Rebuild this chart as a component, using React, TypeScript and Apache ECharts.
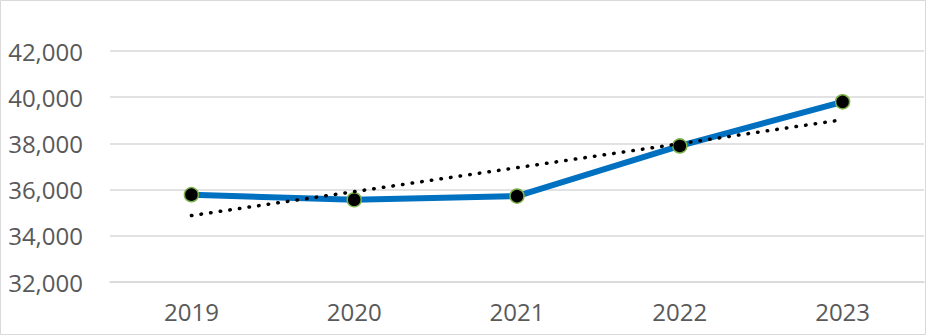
import React, { useEffect, useRef } from "react";
import * as echarts from "echarts";

const categories = ["2019", "2020", "2021", "2022", "2023"];
const values = [35780, 35560, 35720, 37890, 39800];
const yTicks = { min: 32000, max: 42000, interval: 2000 };

function trend(vals: number[]): number[] {
  const n = vals.length;
  const mx = (n - 1) / 2;
  const my = vals.reduce((a, b) => a + b, 0) / n;
  let sxy = 0, sxx = 0;
  vals.forEach((v, i) => { sxy += (i - mx) * (v - my); sxx += (i - mx) * (i - mx); });
  const b = sxy / sxx;
  return vals.map((_, i) => my + b * (i - mx));
}

export default function App() {
  const ref = useRef<HTMLDivElement>(null);
  useEffect(() => {
    document.body.style.margin = "0";
    const chart = echarts.init(ref.current!, null, { renderer: "svg" });
    const font = "'Open Sans', sans-serif";
    chart.setOption({
      animation: false,
      backgroundColor: "#ffffff",
      graphic: [
        {
          type: "rect",
          shape: { x: 0.5, y: 0.5, width: 925, height: 334 },
          style: { fill: "none", stroke: "#d9d9d9", lineWidth: 1 },
          silent: true,
        },
      ],
      grid: { left: 110, right: 2, top: 51, bottom: 53, containLabel: false },
      xAxis: {
        type: "category",
        data: categories,
        boundaryGap: true,
        axisLine: { show: true, lineStyle: { color: "#d9d9d9", width: 1.5 } },
        axisTick: { show: false },
        axisLabel: { color: "#595959", fontSize: 24, fontFamily: font, margin: 17 },
      },
      yAxis: {
        type: "value",
        min: yTicks.min,
        max: yTicks.max,
        interval: yTicks.interval,
        axisLine: { show: false },
        axisTick: { show: false },
        splitLine: { lineStyle: { color: "#d9d9d9", width: 1.5 } },
        axisLabel: {
          color: "#595959",
          fontSize: 24,
          fontFamily: font,
          margin: 27,
          formatter: (v: number) => v.toLocaleString("en-US"),
        },
      },
      series: [
        {
          type: "line",
          data: values,
          lineStyle: { color: "#0070C0", width: 6 },
          symbol: "circle",
          symbolSize: 14,
          itemStyle: { color: "#000000", borderColor: "#7fb24a", borderWidth: 1.5 },
          z: 3,
        },
        {
          type: "line",
          data: trend(values),
          symbol: "none",
          lineStyle: { color: "#000000", width: 3.5, type: [0.5, 9.2], cap: "round" },
          z: 4,
        },
      ],
    });
    return () => chart.dispose();
  }, []);
  return <div ref={ref} style={{ width: 926, height: 335 }} />;
}
